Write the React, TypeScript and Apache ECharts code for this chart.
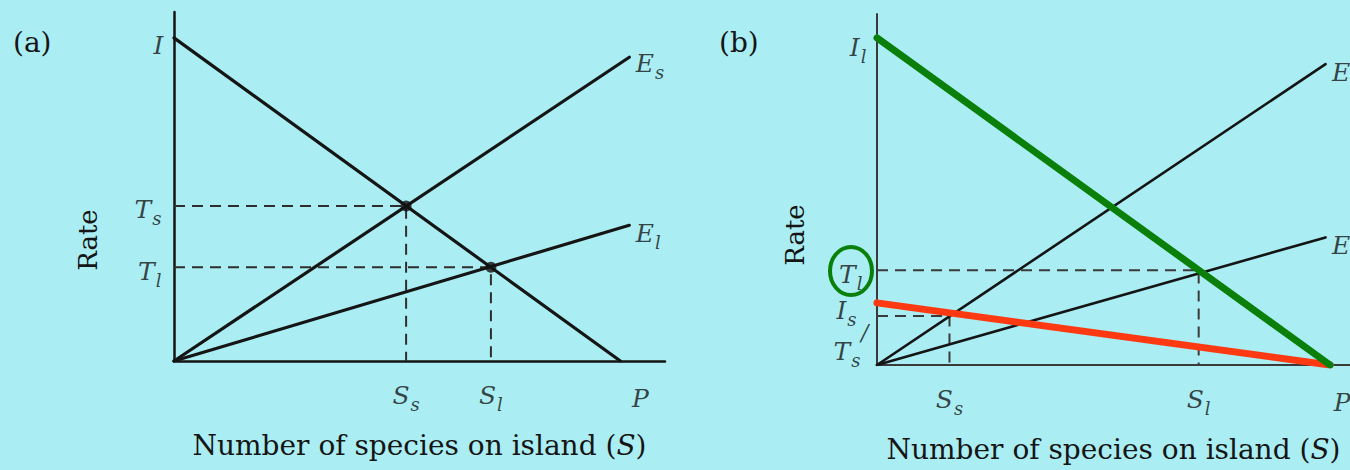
import React, { useEffect, useRef } from "react";
import * as echarts from "echarts";

// Panel (a): immigration I falling to P, extinction curves for small and large islands
const aImmigration = [[0, 100], [100, 0]];
const aExtinctionSmall = [[0, 0], [102, 94]];
const aExtinctionLarge = [[0, 0], [102, 42]];
const aEquilibriumSmall = [52, 48]; // (S_s, T_s)
const aEquilibriumLarge = [71, 29]; // (S_l, T_l)

// Panel (b): separate immigration curves for large (I_l) and small (I_s) islands
const bImmigrationLarge = [[0, 100], [100, 0]];
const bImmigrationSmall = [[0, 19], [100, 0]];
const bExtinctionSmall = [[0, 0], [99, 92]];
const bExtinctionLarge = [[0, 0], [99, 39]];
const bEquilibriumSmall = [16, 15]; // (S_s, T_s)
const bEquilibriumLarge = [71, 29]; // (S_l, T_l)

const axisTitleX = "Number of species on island ";
const axisTitleY = "Rate";
const panelTags = ["(a)", "(b)"];

const SERIF = "DejaVu Serif";
const INK = "#151515";
const BG = "#aaeef3";

const sub = (main: string, s: string) => `{v|${main}}{s|${s}}`;

const rich = {
  v: { fontFamily: SERIF, fontStyle: "italic", fontSize: 25, color: INK },
  s: {
    fontFamily: SERIF,
    fontStyle: "italic",
    fontSize: 18,
    color: INK,
    padding: [18, 0, 0, 1],
    verticalAlign: "bottom",
  },
  n: { fontFamily: SERIF, fontSize: 28, color: INK },
  ni: { fontFamily: SERIF, fontStyle: "italic", fontSize: 28, color: INK },
  sl: { fontFamily: SERIF, fontStyle: "italic", fontSize: 22, color: INK },
};

type Lbl = { at: number[]; text: string; pos: string; off?: number[]; dist?: number };

function labelSeries(idx: number, items: Lbl[]) {
  return {
    type: "scatter",
    xAxisIndex: idx,
    yAxisIndex: idx,
    symbolSize: 1,
    itemStyle: { color: "rgba(0,0,0,0)" },
    silent: true,
    z: 10,
    data: items.map((it) => ({
      value: it.at,
      label: {
        show: true,
        formatter: it.text,
        position: it.pos,
        distance: it.dist ?? 10,
        offset: it.off ?? [0, 0],
        rich,
      },
    })),
  };
}

function lineSeries(idx: number, data: number[][], color: string, width: number, z = 3) {
  return {
    type: "line",
    xAxisIndex: idx,
    yAxisIndex: idx,
    data,
    symbol: "none",
    lineStyle: { color, width, cap: "round" },
    z,
  };
}

function dashSeries(idx: number, p: number[], color: string) {
  return {
    type: "line",
    xAxisIndex: idx,
    yAxisIndex: idx,
    data: [[0, p[1]], [p[0], p[1]], [p[0], 0]],
    symbol: "none",
    lineStyle: { color, width: 2, type: [11, 7] },
    z: 2,
  };
}

function makeAxis(idx: number, max: number, color: string, width: number, isX: boolean) {
  const base: any = {
    type: "value",
    gridIndex: idx,
    min: 0,
    max,
    axisLine: { show: true, lineStyle: { color, width } },
    axisTick: { show: false },
    axisLabel: { show: false },
    splitLine: { show: false },
  };
  if (isX) {
    base.name = `{n|${axisTitleX}}{n|(}{ni|S}{n|)}`;
    base.nameLocation = "middle";
    base.nameGap = 70;
    base.nameTextStyle = { rich };
  }
  return base;
}

export default function App() {
  const ref = useRef<HTMLDivElement>(null);

  useEffect(() => {
    if (!ref.current) return;
    const chart = echarts.init(ref.current, undefined, { renderer: "svg" });

    const option: any = {
      animation: false,
      backgroundColor: BG,
      grid: [
        { left: 174, top: 12, width: 491, height: 349 },
        { left: 877, top: 14, width: 473, height: 351 },
      ],
      xAxis: [makeAxis(0, 110, INK, 2.5, true), makeAxis(1, 104.4, "#3a3a3a", 2, true)],
      yAxis: [makeAxis(0, 108, INK, 2.5, false), makeAxis(1, 107.3, "#3a3a3a", 2, false)],
      graphic: [
        {
          type: "text",
          left: 13,
          top: 28,
          style: { text: panelTags[0], font: `28px "${SERIF}"`, fill: INK },
        },
        {
          type: "text",
          left: 719,
          top: 28,
          style: { text: panelTags[1], font: `28px "${SERIF}"`, fill: INK },
        },
        {
          type: "text",
          x: 88,
          y: 240,
          rotation: Math.PI / 2,
          style: { text: axisTitleY, font: `26px "${SERIF}"`, fill: INK, align: "center", verticalAlign: "middle" },
        },
        {
          type: "text",
          x: 795,
          y: 235,
          rotation: Math.PI / 2,
          style: { text: axisTitleY, font: `26px "${SERIF}"`, fill: INK, align: "center", verticalAlign: "middle" },
        },
        {
          type: "ellipse",
          shape: { cx: 851, cy: 271, rx: 21, ry: 24 },
          style: { fill: "none", stroke: "#0a800a", lineWidth: 4 },
          z: 20,
        },
      ],
      series: [
        // panel (a)
        dashSeries(0, aEquilibriumSmall, "#2e2e2e"),
        dashSeries(0, aEquilibriumLarge, "#2e2e2e"),
        lineSeries(0, aImmigration, INK, 3.2),
        lineSeries(0, aExtinctionSmall, INK, 3.2),
        lineSeries(0, aExtinctionLarge, INK, 3.2),
        {
          type: "scatter",
          xAxisIndex: 0,
          yAxisIndex: 0,
          data: [aEquilibriumSmall, aEquilibriumLarge],
          symbolSize: 11,
          itemStyle: { color: "#111" },
          z: 5,
        },
        labelSeries(0, [
          { at: [0, 100], text: `{v|I}`, pos: "left", dist: 10, off: [0, 8] },
          { at: [0, aEquilibriumSmall[1]], text: sub("T", "s"), pos: "left", dist: 12, off: [0, 4] },
          { at: [0, aEquilibriumLarge[1]], text: sub("T", "l"), pos: "left", dist: 12, off: [0, 4] },
          { at: [aEquilibriumSmall[0], 0], text: sub("S", "s"), pos: "bottom", dist: 16 },
          { at: [aEquilibriumLarge[0], 0], text: sub("S", "l"), pos: "bottom", dist: 16 },
          { at: [100, 0], text: `{v|P}`, pos: "bottom", dist: 24, off: [20, 0] },
          { at: aExtinctionSmall[1], text: sub("E", "s"), pos: "right", dist: 6, off: [0, 6] },
          { at: aExtinctionLarge[1], text: sub("E", "l"), pos: "right", dist: 6, off: [0, 8] },
        ]),
        // panel (b)
        dashSeries(1, bEquilibriumSmall, "#3a3a3a"),
        dashSeries(1, bEquilibriumLarge, "#3a3a3a"),
        lineSeries(1, bExtinctionSmall, INK, 2.6),
        lineSeries(1, bExtinctionLarge, INK, 2.6),
        lineSeries(1, bImmigrationSmall, "#ff3a12", 7, 6),
        lineSeries(1, bImmigrationLarge, "#0a800a", 7, 7),
        labelSeries(1, [
          { at: [0, 100], text: sub("I", "l"), pos: "left", dist: 10, off: [0, 10] },
          { at: [0, bEquilibriumLarge[1]], text: sub("T", "l"), pos: "left", dist: 14, off: [0, 4] },
          { at: [0, bEquilibriumSmall[1]], text: sub("I", "s"), pos: "left", dist: 20, off: [0, -5] },
          { at: [0, bEquilibriumSmall[1]], text: `{sl|/}`, pos: "left", dist: 8, off: [0, 17] },
          { at: [0, bEquilibriumSmall[1]], text: sub("T", "s"), pos: "left", dist: 16, off: [0, 36] },
          { at: [bEquilibriumSmall[0], 0], text: sub("S", "s"), pos: "bottom", dist: 16 },
          { at: [bEquilibriumLarge[0], 0], text: sub("S", "l"), pos: "bottom", dist: 16 },
          { at: [100, 0], text: `{v|P}`, pos: "bottom", dist: 24, off: [12, 0] },
          { at: bExtinctionSmall[1], text: sub("E", "s"), pos: "right", dist: 6, off: [0, 8] },
          { at: bExtinctionLarge[1], text: sub("E", "l"), pos: "right", dist: 6, off: [0, 8] },
        ]),
      ],
    };

    chart.setOption(option);
    return () => chart.dispose();
  }, []);

  return (
    <div
      ref={ref}
      style={{ position: "absolute", left: 0, top: 0, width: 1350, height: 470 }}
    />
  );
}
